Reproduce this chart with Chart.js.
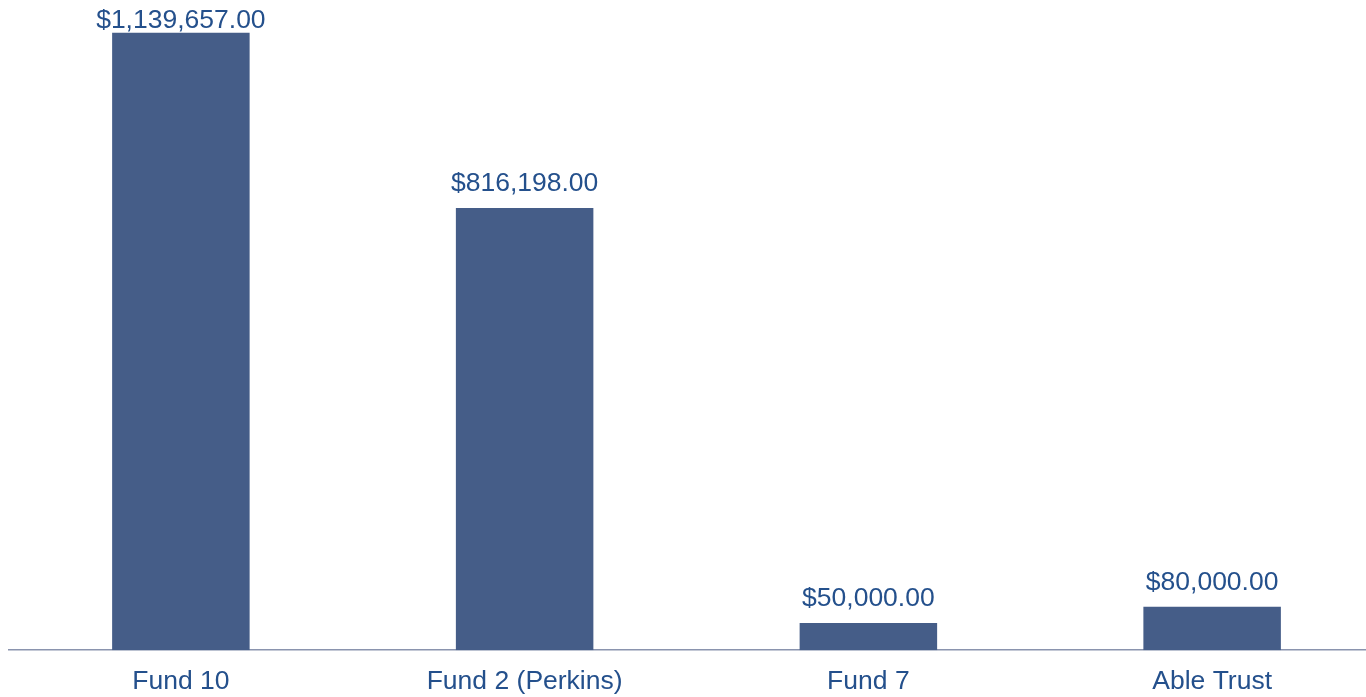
<!DOCTYPE html>
<html><head><meta charset="utf-8">
<script src="https://cdn.jsdelivr.net/npm/chart.js@4/dist/chart.umd.min.js"></script>
<style>
html,body{margin:0;padding:0;background:#fff;overflow:hidden;width:1366px;height:697px;}
#wrap{position:absolute;left:0;top:0;width:1384px;height:697px;}
</style></head>
<body><div id="wrap"><canvas id="c" width="1384" height="697"></canvas></div>
<script>
const categories = ["Fund 10", "Fund 2 (Perkins)", "Fund 7", "Able Trust"];
const amounts = [1139657, 816198, 50000, 80000];
const yMax = 1200000;

const fmt = v => '$' + v.toLocaleString('en-US', {minimumFractionDigits: 2, maximumFractionDigits: 2});
const textColor = '#24508c';
const fontFamily = '"Liberation Sans", Arial, sans-serif';

const labelPlugin = {
  id: 'valueLabels',
  afterDatasetsDraw(chart) {
    const ctx = chart.ctx;
    const meta = chart.getDatasetMeta(0);
    ctx.save();
    ctx.font = '26.5px ' + fontFamily;
    ctx.fillStyle = textColor;
    ctx.textAlign = 'center';
    ctx.textBaseline = 'alphabetic';
    meta.data.forEach((bar, i) => {
      let y = bar.y - 17;
      if (y < 28) y = 28;
      ctx.fillText(fmt(amounts[i]), bar.x, y);
    });
    ctx.restore();
  }
};

new Chart(document.getElementById('c'), {
  type: 'bar',
  data: {
    labels: categories,
    datasets: [{
      data: amounts,
      backgroundColor: '#455d88',
      borderWidth: 0,
      barPercentage: 0.4,
      categoryPercentage: 1.0
    }]
  },
  options: {
    responsive: false,
    animation: false,
    devicePixelRatio: 1,
    layout: {padding: {left: 9, top: 0, right: 0, bottom: -17}},
    plugins: {legend: {display: false}, tooltip: {enabled: false}},
    scales: {
      x: {
        grid: {display: false, drawTicks: false},
        border: {display: true, color: '#8a94ae', width: 1.5},
        ticks: {color: textColor, font: {family: fontFamily, size: 26.5}, padding: 16, maxRotation: 0}
      },
      y: {display: false, min: 0, max: yMax}
    }
  },
  plugins: [labelPlugin]
});
</script></body></html>
